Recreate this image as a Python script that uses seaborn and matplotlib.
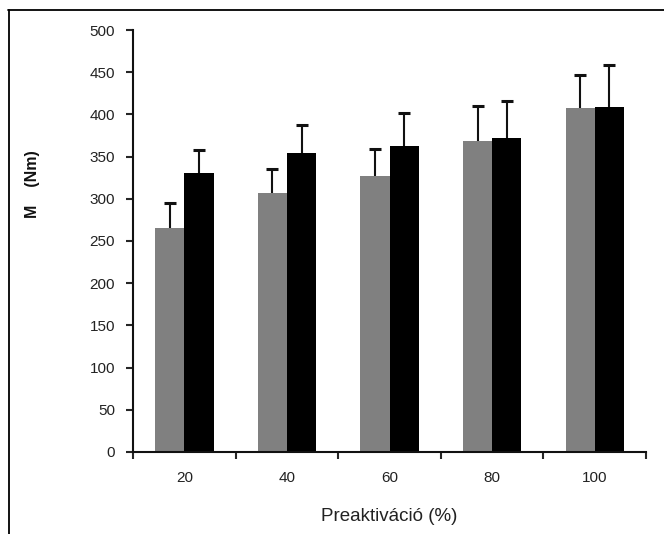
import matplotlib
matplotlib.use("Agg")
import matplotlib.pyplot as plt
import seaborn as sns
import pandas as pd
import numpy as np
from matplotlib.lines import Line2D
from matplotlib.ticker import FixedLocator

categories = ["20", "40", "60", "80", "100"]
series_names = ["A", "B"]
grey_values = [265, 307, 327, 369, 407]
grey_errors = [30, 28, 32, 41, 40]
black_values = [330, 354, 362, 372, 409]
black_errors = [28, 33, 40, 44, 50]
y_ticks = [0, 50, 100, 150, 200, 250, 300, 350, 400, 450, 500]

sns.set_style("white")
plt.rcParams['font.family'] = ['Liberation Sans', 'DejaVu Sans']

df = pd.DataFrame({
    "cat": categories * 2,
    "series": [series_names[0]] * 5 + [series_names[1]] * 5,
    "val": grey_values + black_values,
})

fig = plt.figure(figsize=(6.64, 5.34), dpi=100)
ax = fig.add_axes([0.2003, 0.1536, 0.7727, 0.7902])

sns.barplot(data=df, x="cat", y="val", hue="series", order=categories,
            hue_order=series_names, palette=["#808080", "#000000"],
            width=0.57, errorbar=None, legend=False, ax=ax, saturation=1,
            linewidth=0)

patches = [p for p in ax.patches if p.get_height() > 0]
patches.sort(key=lambda p: p.get_x())
vals_sorted = []
errs_sorted = []
for i in range(len(categories)):
    vals_sorted += [grey_values[i], black_values[i]]
    errs_sorted += [grey_errors[i], black_errors[i]]
xs = np.array([p.get_x() + p.get_width() / 2 for p in patches])
vals_sorted = np.array(vals_sorted)
errs_sorted = np.array(errs_sorted)
tops = vals_sorted + errs_sorted
ax.vlines(xs, vals_sorted, tops, colors="#111111", linewidth=1.5, zorder=3)
ax.plot(xs, tops, linestyle="none", marker="_", markersize=9,
        markeredgewidth=2.2, color="#111111", zorder=3)

ax.set_ylim(0, 500)
ax.set_xlim(-0.5, 4.5)
ax.set_yticks(y_ticks)
ax.set_yticklabels([str(t) for t in y_ticks], fontsize=11, color="#222222")
ax.set_xticks(range(len(categories)))
ax.set_xticklabels(categories, fontsize=11, color="#222222")
ax.xaxis.set_minor_locator(FixedLocator(np.arange(-0.5, 5, 1.0)))
ax.tick_params(axis="x", which="major", length=0, pad=14)
ax.tick_params(axis="x", which="minor", length=5, width=1.5, direction="out", bottom=True)
ax.tick_params(axis="y", which="major", length=5, width=1.5, direction="out", pad=8, left=True)

for s in ["top", "right"]:
    ax.spines[s].set_visible(False)
for s in ["left", "bottom"]:
    ax.spines[s].set_color("#111111")
    ax.spines[s].set_linewidth(1.5)

ax.set_xlabel("Preaktiváció (%)", fontsize=13.5, color="#222222", labelpad=16)
ax.set_ylabel("")
fig.text(0.049, 0.655, "M    (Nm)", rotation=90, fontsize=11.5, fontweight="bold",
         ha="center", va="center", color="#111111")

fig.add_artist(Line2D([8 / 664, 1.0], [1 - 10 / 534, 1 - 10 / 534],
                      color="black", linewidth=1.3, transform=fig.transFigure))
fig.add_artist(Line2D([9 / 664, 9 / 664], [0, 1 - 10 / 534],
                      color="black", linewidth=1.3, transform=fig.transFigure))

fig.savefig("out.png", dpi=100)
